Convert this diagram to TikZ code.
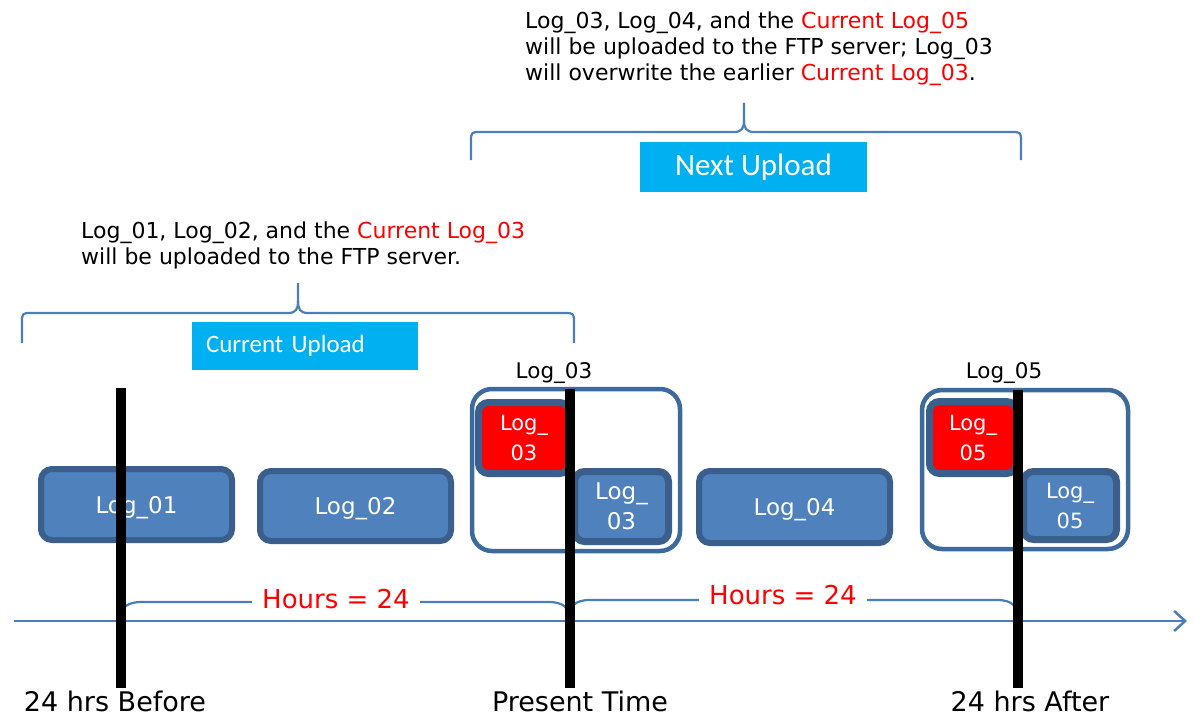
\documentclass[tikz,border=0pt]{standalone}
\usepackage{fontspec}
\setmainfont{DejaVu Sans}
\newfontfamily\calib{Carlito}
\usetikzlibrary{arrows.meta}
\definecolor{boxblue}{HTML}{4F81BD}
\definecolor{boxedge}{HTML}{3A5F8C}
\definecolor{grpedge}{HTML}{3D6A9C}
\definecolor{linblue}{HTML}{4A7EBB}
\definecolor{skyc}{HTML}{00B0F0}
\definecolor{redc}{HTML}{FF0000}
\tikzset{
  logbox/.style={draw=boxedge, fill=boxblue, line width=6pt, rounded corners=11pt,
    text=white, font=\fontsize{23}{28}\selectfont, inner sep=0pt, text depth=0pt},
  smallbox/.style={draw=boxedge, line width=7pt, rounded corners=10pt,
    text=white, align=center, inner sep=0pt},
  grpbox/.style={draw=grpedge, fill=white, line width=4.5pt, rounded corners=20pt, inner sep=0pt},
  upbox/.style={fill=skyc, text=white, inner sep=0pt},
  bracepath/.style={draw=linblue, line width=2.2pt},
  timebar/.style={line width=9.5pt, black},
  para/.style={anchor=north west, align=left, inner sep=0pt, font=\fontsize{22}{26}\selectfont},
  bottomlbl/.style={anchor=base, inner sep=0pt, font=\fontsize{27}{30}\selectfont},
  hourlbl/.style={anchor=base, fill=white, inner xsep=10pt, inner ysep=3pt, text=redc, font=\fontsize{26}{30}\selectfont},
  toplbl/.style={anchor=base, inner sep=0pt, font=\fontsize{21.5}{26}\selectfont}
}
\begin{document}
\begin{tikzpicture}[x=1pt,y=-1pt]
\useasboundingbox (0,0) rectangle (1195,717);

% paragraphs
\node[para] (p2) at (525,12) {Log\_03, Log\_04, and the \textcolor{redc}{Current Log\_05}\\
will be uploaded to the FTP server; Log\_03\\
will overwrite the earlier \textcolor{redc}{Current Log\_03}.};
\node[para] (p1) at (81,222) {Log\_01, Log\_02, and the \textcolor{redc}{Current Log\_03}\\
will be uploaded to the FTP server.};

% top braces
\draw[bracepath] (471,160) -- (471,140) .. controls (471,133) and (472,132) .. (479,132)
  -- (734,132) .. controls (742,132) and (744,128) .. (744,120) -- (744,103);
\draw[bracepath] (744,120) .. controls (744,128) and (746,132) .. (754,132)
  -- (1013,132) .. controls (1020,132) and (1021,133) .. (1021,140) -- (1021,160);
\draw[bracepath] (22,343) -- (22,321) .. controls (22,314) and (23,313) .. (30,313)
  -- (288,313) .. controls (296,313) and (298,309) .. (298,301) -- (298,283);
\draw[bracepath] (298,301) .. controls (298,309) and (300,313) .. (308,313)
  -- (566,313) .. controls (573,313) and (574,314) .. (574,321) -- (574,343);

% upload boxes
\node[upbox, minimum width=227pt, minimum height=50pt, font=\calib\fontsize{31}{36}\selectfont] (next) at (753.5,167) {Next Upload};
\node[upbox, text width=198pt, inner xsep=14pt, minimum height=48pt, align=left, font=\calib\fontsize{25}{30}\selectfont] (cur) at (305,346) {Current Upload};

% axis
\coordinate (ax0) at (14,621);
\coordinate (ax1) at (1187,621);
\draw[linblue, line width=2.5pt, -{Straight Barb[length=11pt,width=20pt,line width=2.5pt]}] (ax0) -- (ax1);

% hours braces
\draw[bracepath] (121,619) .. controls (121,607) and (127,602) .. (142,602) -- (548,602)
  .. controls (563,602) and (569,607) .. (569,619);
\draw[bracepath] (569,619) .. controls (569,606) and (575,600) .. (590,600) -- (997,600)
  .. controls (1012,600) and (1018,606) .. (1018,619);
\node[hourlbl] (h1) at (336,608) {Hours = 24};
\node[hourlbl] (h2) at (783,604) {Hours = 24};

% log boxes
\node[logbox, minimum width=191pt, minimum height=71pt] (l1) at (136.5,504.5) {Log\_01};
\node[logbox, minimum width=191pt, minimum height=70pt] (l2) at (355.5,506) {Log\_02};
\node[logbox, minimum width=191pt, minimum height=72pt] (l4) at (794.5,507) {Log\_04};

% group 03
\node[grpbox, minimum width=208pt, minimum height=162pt] (g3) at (576,470) {};
\node[smallbox, fill=redc, minimum width=91pt, minimum height=71pt, font=\fontsize{21}{30}\selectfont] (r3) at (524,438) {Log\_\\03};
\node[smallbox, fill=boxblue, minimum width=94pt, minimum height=70pt, font=\fontsize{23}{30}\selectfont] (b3) at (621.5,506.5) {Log\_\\03};

% group 05
\node[grpbox, minimum width=206pt, minimum height=159pt] (g5) at (1025,469.5) {};
\node[smallbox, fill=redc, minimum width=87pt, minimum height=72pt, font=\fontsize{21}{30}\selectfont] (r5) at (973,437.5) {Log\_\\05};
\node[smallbox, fill=boxblue, minimum width=93pt, minimum height=68pt, font=\fontsize{21}{30}\selectfont] (b5) at (1070,505.5) {Log\_\\05};

\node[toplbl] (t3) at (554,378) {Log\_03};
\node[toplbl] (t5) at (1004,378) {Log\_05};

% time bars
\coordinate (a0) at (121,388); \coordinate (a1) at (121,688);
\coordinate (c0) at (570,389); \coordinate (c1) at (570,688);
\coordinate (e0) at (1018,390); \coordinate (e1) at (1018,688);
\draw[timebar] (a0) -- (a1);
\draw[timebar] (c0) -- (c1);
\draw[timebar] (e0) -- (e1);

% bottom labels
\node[bottomlbl] (lb1) at (115,711) {24 hrs Before};
\node[bottomlbl] (lb2) at (580,711) {Present Time};
\node[bottomlbl] (lb3) at (1030,711) {24 hrs After};
\end{tikzpicture}
\end{document}
